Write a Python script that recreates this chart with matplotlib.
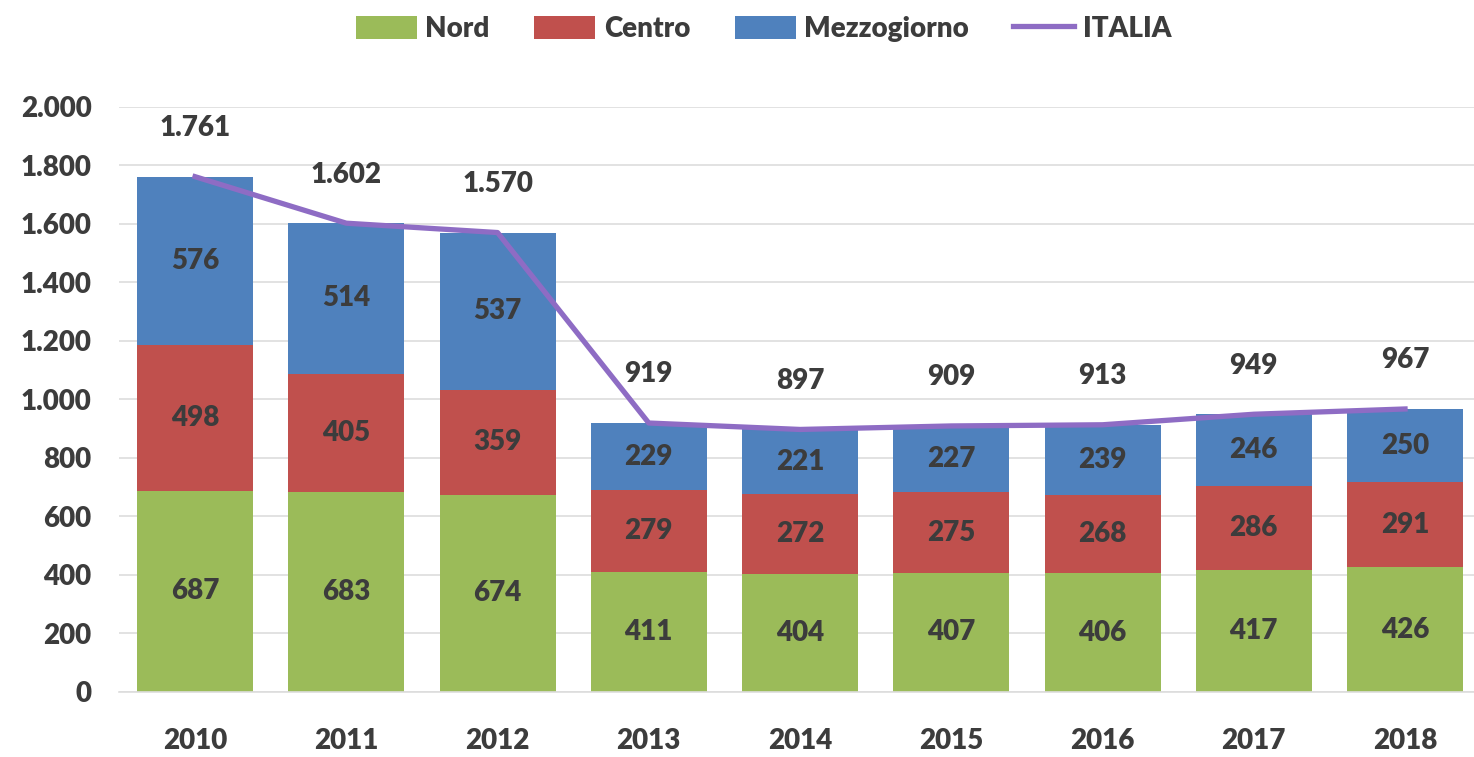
import matplotlib.pyplot as plt
import numpy as np
from matplotlib.ticker import FuncFormatter

plt.rcParams["font.family"] = ["Lato", "DejaVu Sans"]
plt.rcParams["font.weight"] = "heavy"

years = ["2010", "2011", "2012", "2013", "2014", "2015", "2016", "2017", "2018"]
nord = [687, 683, 674, 411, 404, 407, 406, 417, 426]
centro = [498, 405, 359, 279, 272, 275, 268, 286, 291]
mezzogiorno = [576, 514, 537, 229, 221, 227, 239, 246, 250]
italia = [1761, 1602, 1570, 919, 897, 909, 913, 949, 967]

TEXT = "#3C3C3C"
W = "heavy"
FS = 20


def fmt_it(v):
    """Italian thousands separator."""
    return f"{int(round(v)):,}".replace(",", ".")


fig = plt.figure(figsize=(14.74, 7.57), dpi=100)
ax = fig.add_axes([0.081, 0.086, 0.919, 0.773])

x = np.arange(len(years))
width = 0.767
nord_arr = np.array(nord)
centro_arr = np.array(centro)
mezz_arr = np.array(mezzogiorno)

b1 = ax.bar(x, nord_arr, width, color="#9BBB59", label="Nord", zorder=2)
b2 = ax.bar(x, centro_arr, width, bottom=nord_arr, color="#C0504D", label="Centro", zorder=2)
b3 = ax.bar(x, mezz_arr, width, bottom=nord_arr + centro_arr, color="#4F81BD",
            label="Mezzogiorno", zorder=2)
(ln,) = ax.plot(x, italia, color="#8E6CC4", linewidth=3.8, label="ITALIA", zorder=3)

# segment labels
for vals, base in [(nord_arr, np.zeros(len(years))), (centro_arr, nord_arr),
                   (mezz_arr, nord_arr + centro_arr)]:
    for i, v in enumerate(vals):
        ax.text(x[i], base[i] + v / 2, fmt_it(v), ha="center", va="center",
                fontsize=FS, fontweight=W, color=TEXT, zorder=4)

# totals above the line
for i, v in enumerate(italia):
    ax.annotate(fmt_it(v), (x[i], v), xytext=(0, 35), textcoords="offset points",
                ha="center", va="center", fontsize=FS, fontweight=W, color=TEXT)

ax.set_ylim(0, 2000)
ax.set_xlim(-0.5, 8.456)
ax.set_yticks(np.arange(0, 2001, 200))
ax.yaxis.set_major_formatter(FuncFormatter(lambda v, p: fmt_it(v)))
ax.set_xticks(x)
ax.set_xticklabels(years)
ax.tick_params(axis="both", length=0, labelsize=FS, labelcolor=TEXT)
ax.tick_params(axis="x", pad=26)
ax.tick_params(axis="y", pad=20)
for lbl in ax.get_xticklabels() + ax.get_yticklabels():
    lbl.set_fontweight(W)

ax.grid(axis="y", color="#DDDDDD", linewidth=1.2, zorder=0)
ax.set_axisbelow(True)
for side in ["top", "right", "left"]:
    ax.spines[side].set_visible(False)
ax.spines["bottom"].set_color("#DDDDDD")
ax.spines["bottom"].set_linewidth(1.2)

fig.legend([b1, b2, b3, ln], ["Nord", "Centro", "Mezzogiorno", "ITALIA"],
           loc="upper center", bbox_to_anchor=(0.518, 1.012), ncol=4, frameon=False,
           handlelength=2.2, handleheight=0.9, columnspacing=1.6,
           handletextpad=0.3, labelcolor=TEXT,
           prop={"weight": W, "size": FS})

fig.savefig("out.png", dpi=100)
